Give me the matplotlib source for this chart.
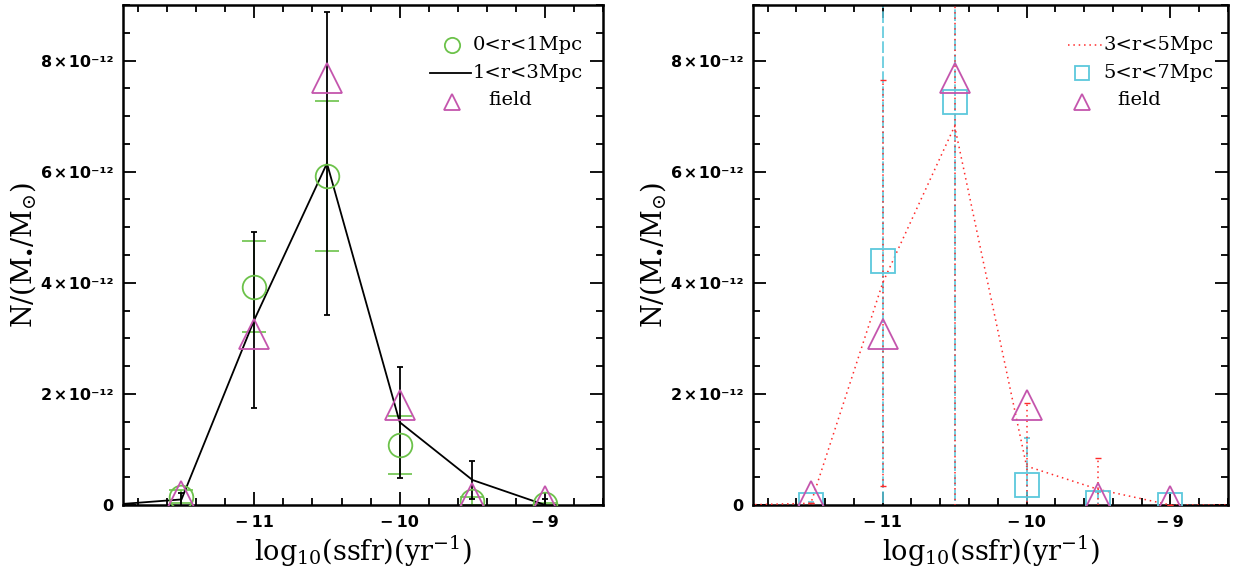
import matplotlib
matplotlib.use("Agg")
import matplotlib.pyplot as plt
from matplotlib.ticker import MultipleLocator, FixedLocator, FuncFormatter
from matplotlib.lines import Line2D

# ---- data (units of 1e-12) ----
x_black = [-12.0, -11.5, -11.0, -10.5, -10.0, -9.5, -9.0]
y_black = [0.0, 0.10, 3.33, 6.15, 1.49, 0.45, 0.0]
e_black = [0.0, 0.12, 1.58, 2.73, 1.00, 0.34, 0.10]

x_green = [-11.5, -11.0, -10.5, -10.0, -9.5, -9.0]
y_green = [0.15, 3.93, 5.93, 1.08, 0.07, 0.02]
e_green = [0.12, 0.82, 1.35, 0.52, 0.07, 0.02]

x_field = [-11.5, -11.0, -10.5, -10.0, -9.5, -9.0]
y_field = [0.16, 3.08, 7.68, 1.80, 0.12, 0.08]

x_red = [-12.0, -11.5, -11.0, -10.5, -10.0, -9.5, -9.0, -8.5]
y_red = [0.0, 0.03, 4.00, 6.82, 0.70, 0.28, 0.0, 0.0]
e_red = [0.0, 0.0, 3.65, 7.50, 1.13, 0.56, 0.0, 0.0]

x_cyan = [-11.5, -11.0, -10.5, -10.0, -9.5, -9.0]
y_cyan = [0.0, 4.40, 7.26, 0.36, 0.04, 0.0]
e_cyan = [0.05, 6.00, 8.00, 0.84, 0.20, 0.0]

x_ticks = [-11, -10, -9]
y_ticks = [0, 2, 4, 6, 8]

scale = 1e-12
green = '#6cc24a'
magenta = '#c455ad'
cyan = '#5cc8dc'
red = '#ff2a2a'

plt.rcParams['mathtext.fontset'] = 'dejavuserif'

fig = plt.figure(figsize=(12.39, 5.77), dpi=100)
axL = fig.add_axes([0.0995, 0.1248, 0.3875, 0.8665])
axR = fig.add_axes([0.608, 0.1248, 0.383, 0.8665])

def sc(v):
    return [a * scale for a in v]

def yfmt(v, pos):
    m = v / scale
    if abs(m) < 1e-6:
        return '0'
    return '%d\u200a\u00d7\u200a10\u207b\u00b9\u00b2' % round(m)

def xfmt(v, pos):
    n = round(v)
    if n < 0:
        return '\u2212\u2009%d' % (-n)
    return '%d' % n

for ax in (axL, axR):
    ax.set_xlim(-11.9, -8.6)
    ax.set_ylim(0, 9e-12)
    ax.xaxis.set_major_locator(FixedLocator(x_ticks))
    ax.xaxis.set_minor_locator(MultipleLocator(0.2))
    ax.yaxis.set_major_locator(FixedLocator(sc(y_ticks)))
    ax.yaxis.set_minor_locator(MultipleLocator(0.5e-12))
    ax.yaxis.set_major_formatter(FuncFormatter(yfmt))
    ax.xaxis.set_major_formatter(FuncFormatter(xfmt))
    ax.tick_params(which='both', direction='in', top=True, right=True, width=1.3)
    ax.tick_params(which='major', length=9.5, labelsize=11.5, pad=7)
    ax.tick_params(which='minor', length=5)
    for lab in ax.get_xticklabels() + ax.get_yticklabels():
        lab.set_fontweight('bold')
    for s in ax.spines.values():
        s.set_linewidth(1.8)
    ax.set_xlabel(r'log$_{10}$(ssfr)(yr$^{-1}$)', fontsize=19.5, family='DejaVu Serif', labelpad=3)
    ax.set_ylabel(r'N/(M$_{\bullet}$/M$_{\odot}$)', fontsize=19.5, family='DejaVu Serif')

axL.yaxis.set_label_coords(-0.178, 0.5)
axR.yaxis.set_label_coords(-0.18, 0.5)

# ---- left panel ----
axL.errorbar(x_green, sc(y_green), yerr=sc(e_green), fmt='none', ecolor=green,
             elinewidth=1.2, capsize=8.5, capthick=1.2, zorder=2)
axL.errorbar(x_black, sc(y_black), yerr=sc(e_black), color='black', lw=1.3,
             elinewidth=1.3, capsize=2, capthick=1.3, zorder=3)
axL.plot(x_green, sc(y_green), 'o', ms=17, mfc='none', mec=green, mew=1.3, zorder=4)
axL.plot(x_field, sc(y_field), '^', ms=21, mfc='none', mec=magenta, mew=1.3, zorder=5)

# left legend (manual)
t = axL.transAxes
axL.add_line(Line2D([0.684], [0.92], marker='o', ms=11, mfc='none', mec=green, mew=1.3, transform=t))
axL.text(0.728, 0.92, '0<r<1Mpc', transform=t, fontsize=14, family='DejaVu Serif', va='center')
axL.add_line(Line2D([0.639, 0.725], [0.864, 0.864], color='black', lw=1.3, transform=t))
axL.text(0.728, 0.864, '1<r<3Mpc', transform=t, fontsize=14, family='DejaVu Serif', va='center')
axL.add_line(Line2D([0.684], [0.807], marker='^', ms=11, mfc='none', mec=magenta, mew=1.3, transform=t))
axL.text(0.76, 0.81, 'field', transform=t, fontsize=14, family='DejaVu Serif', va='center')

# ---- right panel ----
ebr = axR.errorbar(x_red, sc(y_red), yerr=sc(e_red), color=red, lw=1.1, ls=(0, (1, 2.5)),
                   elinewidth=1.1, capsize=2, capthick=1.0, zorder=3)
ebr[2][0].set_linestyle((0, (1, 2.5)))
ebc = axR.errorbar(x_cyan, sc(y_cyan), yerr=sc(e_cyan), fmt='none', ecolor=cyan,
                   elinewidth=1.2, capsize=2.5, capthick=1.2, zorder=2)
ebc[2][0].set_linestyle((0, (7, 2)))
axR.plot(x_cyan, sc(y_cyan), 's', ms=17, mfc='none', mec=cyan, mew=1.3, zorder=4)
axR.plot(x_field, sc(y_field), '^', ms=21, mfc='none', mec=magenta, mew=1.3, zorder=5)

t = axR.transAxes
axR.add_line(Line2D([0.663, 0.735], [0.92, 0.92], color=red, lw=1.1, ls=(0, (1, 2.5)), transform=t))
axR.text(0.737, 0.92, '3<r<5Mpc', transform=t, fontsize=14, family='DejaVu Serif', va='center')
axR.add_line(Line2D([0.693], [0.864], marker='s', ms=10, mfc='none', mec=cyan, mew=1.3, transform=t))
axR.text(0.737, 0.864, '5<r<7Mpc', transform=t, fontsize=14, family='DejaVu Serif', va='center')
axR.add_line(Line2D([0.693], [0.807], marker='^', ms=11, mfc='none', mec=magenta, mew=1.3, transform=t))
axR.text(0.768, 0.81, 'field', transform=t, fontsize=14, family='DejaVu Serif', va='center')

fig.savefig('out.png', dpi=100)
